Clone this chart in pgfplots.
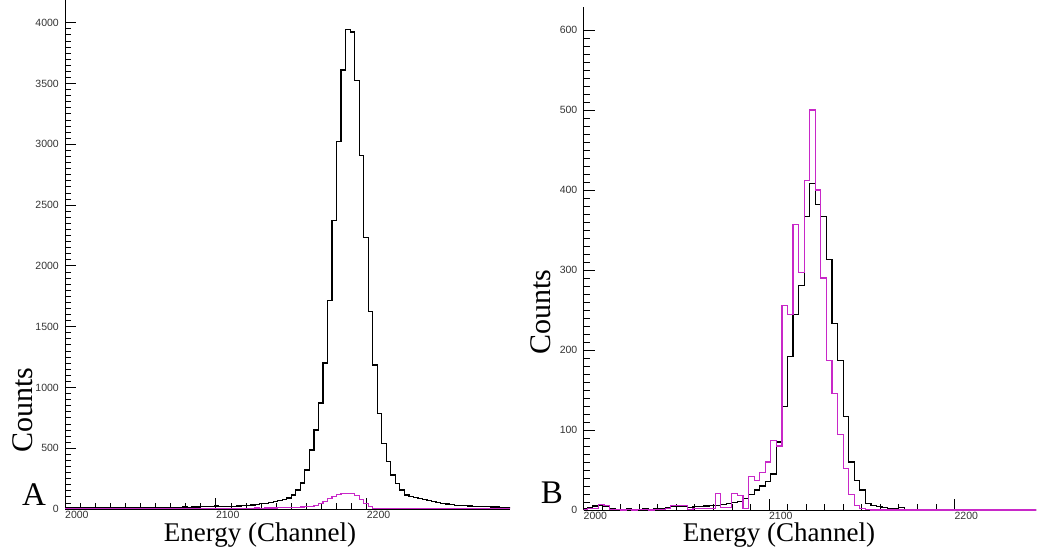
\documentclass[border=0pt]{standalone}
\usepackage{fontspec}
\setmainfont{Liberation Serif}
\newfontfamily\tickfont{Liberation Sans}
\usepackage{pgfplots}
\pgfplotsset{compat=1.18}
\definecolor{mag}{RGB}{200,40,200}
\pgfplotsset{histo/.style={
  scale only axis, axis lines=left, axis line style={-, line width=0.9pt},
  tick align=inside, major tick length=11pt, minor tick length=6pt,
  every tick/.style={black, line width=0.7pt},
  ticklabel style={font=\tickfont\fontsize{10.5}{12}\selectfont, text=black!80},
  /pgf/number format/assume math mode=true,
  /pgf/number format/1000 sep={},
  xticklabel style={anchor=north west, inner sep=0pt, yshift=-2pt},
  yticklabel style={anchor=east, inner sep=0pt, xshift=-6pt},
  xtick={2000,2100,2200}, minor x tick num=9,
  minor y tick num=9,
  anchor=south west,
}}
\begin{document}
\begin{tikzpicture}[x=1pt,y=1pt]
\useasboundingbox (0,0) rectangle (1037,550);
% ---------------- Panel A ----------------
\begin{axis}[histo, at={(65pt,41pt)}, width=445pt, height=509pt,
  xmin=2000, xmax=2295, ymin=0, ymax=4186, ytick={0,500,...,4000}]
\addplot[const plot, black, line width=1.2pt] coordinates {
(1997,10)(2000,12)(2003,9)(2006,12)(2009,14)(2012,10)(2015,11)(2018,12)(2021,13)(2024,11)
(2027,12)(2030,13)(2033,12)(2036,11)(2039,13)(2042,12)(2045,14)(2048,12)(2051,13)(2054,14)
(2057,13)(2060,12)(2063,14)(2066,13)(2069,15)(2072,14)(2075,15)(2078,16)(2081,15)(2084,17)
(2087,16)(2090,18)(2093,19)(2096,22)(2099,24)(2102,22)(2105,20)(2108,21)(2111,23)(2114,25)
(2117,27)(2120,30)(2123,33)(2126,37)(2129,42)(2132,48)(2135,55)(2138,63)(2141,72)(2144,80)
(2147,90)(2150,115)(2153,156)(2156,214)(2159,321)(2162,485)(2165,650)(2168,872)(2171,1201)
(2174,1713)(2177,2371)(2180,3021)(2183,3610)(2186,3945)(2189,3923)(2192,3522)(2195,2905)
(2198,2234)(2201,1623)(2204,1184)(2207,787)(2210,540)(2213,389)(2216,280)(2219,211)(2222,156)
(2225,115)(2228,100)(2231,92)(2234,84)(2237,76)(2240,68)(2243,60)(2246,53)(2249,47)(2252,41)
(2255,36)(2258,32)(2261,29)(2264,26)(2267,24)(2270,22)(2273,21)(2276,19)(2279,18)(2282,17)
(2285,16)(2288,15)(2291,14)(2294,14)(2300,14)};
\addplot[const plot, mag, line width=1.2pt] coordinates {
(1997,3)(2000,4)(2003,3)(2006,5)(2009,4)(2012,3)(2015,4)(2018,3)(2021,5)(2024,4)(2027,3)
(2030,4)(2033,5)(2036,3)(2039,4)(2042,4)(2045,3)(2048,5)(2051,4)(2054,3)(2057,4)(2060,5)
(2063,4)(2066,3)(2069,4)(2072,5)(2075,4)(2078,4)(2081,5)(2084,4)(2087,5)(2090,5)(2093,6)
(2096,5)(2099,6)(2102,6)(2105,5)(2108,6)(2111,6)(2114,7)(2117,6)(2120,7)(2123,7)(2126,8)
(2129,7)(2132,8)(2135,8)(2138,9)(2141,10)(2144,10)(2147,12)(2150,14)(2153,15)(2156,17)
(2159,19)(2162,22)(2165,30)(2168,42)(2171,60)(2174,88)(2177,105)(2180,120)(2183,128)
(2186,130)(2189,127)(2192,112)(2195,80)(2198,47)(2201,18)(2204,6)(2207,3)(2210,2)(2300,2)};
\end{axis}
% ---------------- Panel B ----------------
\begin{axis}[histo, at={(583.5pt,40pt)}, width=452.5pt, height=503.3pt,
  xmin=2000, xmax=2244, ymin=0, ymax=629, ytick={0,100,...,600}]
\addplot[const plot, black, line width=1.2pt] coordinates {
(1999,2)(2002,3)(2005,5)(2008,6)(2011,4)(2014,2)(2017,1)(2020,1)(2023,2)(2026,1)(2029,1)
(2032,2)(2035,1)(2038,2)(2041,2)(2044,3)(2047,4)(2050,4)(2053,4)(2056,3)(2059,4)(2062,4)
(2065,5)(2068,6)(2071,6)(2074,7)(2077,8)(2080,9)(2083,11)(2086,14)(2089,19)(2092,25)
(2095,30)(2098,36)(2101,45)(2104,85)(2107,129)(2110,192)(2113,244)(2116,281)(2119,367)
(2122,408)(2125,382)(2128,367)(2131,313)(2134,233)(2137,187)(2140,117)(2143,60)(2146,37)
(2149,25)(2152,8)(2155,6)(2158,4)(2161,3)(2164,2)(2167,2)(2170,3)(2173,1)(2176,0)(2250,0)};
\addplot[const plot, mag, line width=1.2pt] coordinates {
(1999,1)(2002,2)(2005,2)(2008,7)(2011,6)(2014,1)(2017,1)(2020,0)(2023,1)(2026,0)(2029,1)
(2032,1)(2035,0)(2038,1)(2041,1)(2044,2)(2047,6)(2050,6)(2053,6)(2056,1)(2059,2)(2062,2)
(2065,2)(2068,2)(2071,21)(2074,3)(2077,3)(2080,21)(2083,18)(2086,2)(2089,42)(2092,37)
(2095,47)(2098,60)(2101,87)(2104,80)(2107,256)(2110,244)(2113,357)(2116,297)(2119,412)
(2122,500)(2125,400)(2128,290)(2131,187)(2134,146)(2137,94)(2140,52)(2143,19)(2146,6)
(2149,2)(2152,1)(2155,0)(2250,0)};
\end{axis}
% ---------------- Labels ----------------
\node[font=\fontsize{27}{30}\selectfont, anchor=base] at (260,9) {Energy (Channel)};
\node[font=\fontsize{27}{30}\selectfont, anchor=base] at (779,9) {Energy (Channel)};
\node[font=\fontsize{30}{32}\selectfont, rotate=90] at (23,140) {Counts};
\node[font=\fontsize{30}{32}\selectfont, rotate=90] at (541,238) {Counts};
\node[font=\fontsize{33}{36}\selectfont, anchor=base] at (34,45) {A};
\node[font=\fontsize{33}{36}\selectfont, anchor=base] at (552,47) {B};
\end{tikzpicture}
\end{document}
